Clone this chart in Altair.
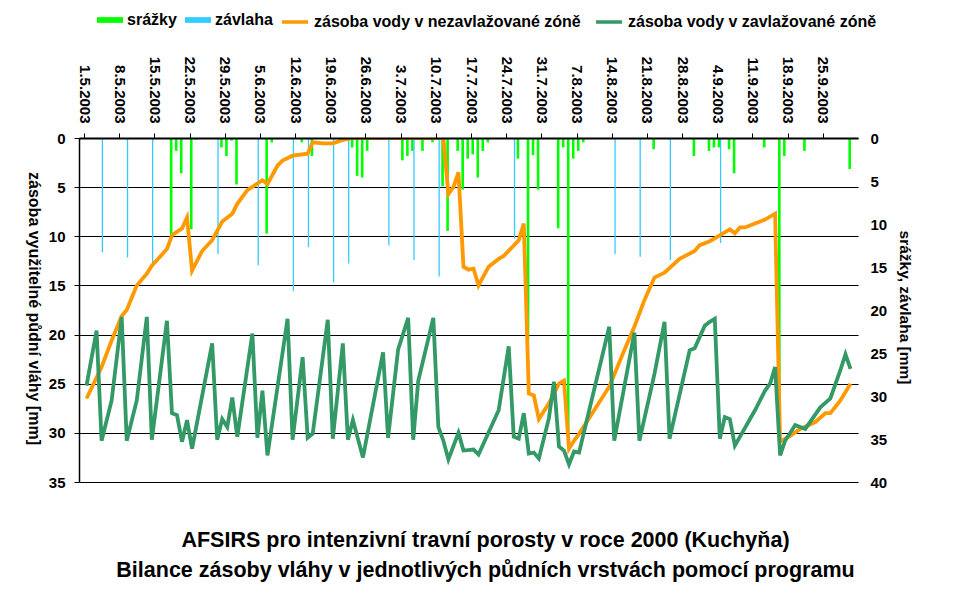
import altair as alt
import pandas as pd

FONT = "Liberation Sans"

# ---------------- data ----------------
tick_dates = ["2003-05-01", "2003-05-08", "2003-05-15", "2003-05-22", "2003-05-29",
              "2003-06-05", "2003-06-12", "2003-06-19", "2003-06-26", "2003-07-03",
              "2003-07-10", "2003-07-17", "2003-07-24", "2003-07-31", "2003-08-07",
              "2003-08-14", "2003-08-21", "2003-08-28", "2003-09-04", "2003-09-11",
              "2003-09-18", "2003-09-25"]

bar_names = ["srážky", "závlaha"]
bar_colors = ["#00ff00", "#33ccff"]
line_names = ["zásoba vody v nezavlažované zóně", "zásoba vody v zavlažované zóně"]
line_colors = ["#ff9900", "#339966"]

# day index counted from 1.5.2003
rain_day = [17, 18, 19, 21, 22, 27, 28, 29, 30, 36, 37, 43, 45, 53, 54, 55, 56, 63, 64, 65,
            67, 69, 71, 72, 74, 75, 76, 77, 78, 79, 80, 86, 88, 89, 90, 94, 95, 96, 97, 98,
            99, 113, 121, 124, 125, 126, 128, 129, 135, 138, 139, 143, 152]
rain_mm = [11.3, 1.5, 4.1, 10.6, 0.2, 1.1, 2.1, 0.3, 5.4, 11.1, 0.5, 0.5, 2.1, 1.1, 4.4, 4.6, 1.5, 2.6, 2.1, 1.5,
           1.5, 0.5, 5.6, 10.8, 1.5, 6.0, 2.4, 1.9, 4.6, 1.5, 0.5, 2.4, 23.5, 2.0, 6.0, 10.5, 1.1, 36.0, 2.4, 1.5,
           0.5, 1.3, 2.1, 1.5, 1.1, 1.1, 1.3, 4.1, 1.1, 36.5, 2.1, 1.5, 3.6]

irr_day = [3, 8, 13, 26, 34, 41, 44, 49, 52, 60, 65, 70, 85, 105, 110, 116, 126]
irr_mm = [13.3, 13.9, 14.7, 13.5, 14.8, 17.8, 12.7, 16.8, 14.6, 12.5, 14.2, 16.1, 11.7, 13.5, 13.8, 14.2, 12.2]

nz_day = [0, 3, 5, 7, 8, 10, 12, 13, 16, 17,
          19, 20, 21, 23, 25, 27, 29, 30, 32, 35,
          36, 38, 39, 41, 44, 45, 47, 49, 51, 52,
          53, 71, 72, 73, 74, 75, 76, 77, 78, 80,
          82, 83, 86, 87, 88, 89, 90, 92, 94, 95,
          96, 97, 98, 104, 107, 109, 111, 113, 115, 118,
          121, 122, 124, 126, 128, 129, 130, 131, 133, 135,
          137, 138, 140, 142, 145, 147, 148, 150, 152]
nz_val = [26.5, 23.3, 20.6, 18.1, 17.5, 15.0, 13.8, 13.0, 11.3, 9.9,
          9.2, 8.1, 13.5, 11.5, 10.4, 8.5, 7.7, 6.7, 5.3, 4.3,
          4.7, 2.8, 2.3, 1.8, 1.6, 0.44, 0.54, 0.54, 0.2, 0.1,
          0.0, 0.0, 5.7, 5.0, 3.5, 13.1, 13.4, 13.3, 15.0, 13.1,
          12.3, 12.0, 10.4, 8.7, 26.0, 26.2, 28.6, 27.0, 25.0, 24.7,
          31.6, 30.8, 30.1, 25.3, 21.6, 19.2, 16.5, 14.2, 13.7, 12.3,
          11.5, 10.9, 10.5, 9.9, 9.3, 9.7, 9.1, 9.1, 8.7, 8.3,
          7.7, 30.9, 30.3, 29.6, 28.9, 28.0, 28.0, 26.7, 25.0]

z_day = [0, 2, 3, 5, 7, 8, 10, 12, 13, 16,
         17, 18, 19, 20, 21, 25, 26, 27, 28, 29,
         30, 33, 34, 35, 36, 40, 41, 43, 44, 45,
         48, 49, 51, 52, 53, 55, 59, 60, 61, 62,
         64, 65, 66, 69, 70, 71, 72, 74, 75, 77,
         78, 82, 84, 85, 86, 87, 88, 89, 90, 92,
         93, 94, 95, 96, 97, 98, 104, 105, 109, 110,
         113, 115, 116, 120, 121, 123, 124, 125, 126, 127,
         128, 129, 133, 135, 136, 137, 138, 139, 141, 143,
         146, 148, 150, 151, 152]
z_val = [25.2, 19.6, 30.8, 26.7, 18.2, 30.8, 26.7, 18.2, 30.7, 18.6,
         28.0, 28.2, 30.9, 28.7, 31.6, 20.9, 30.7, 28.6, 29.4, 26.4,
         30.4, 19.9, 30.5, 25.7, 32.3, 18.4, 30.7, 22.3, 30.5, 30.1,
         18.5, 30.6, 20.9, 30.7, 28.7, 32.5, 21.8, 30.5, 26.0, 21.5,
         18.3, 30.7, 24.7, 18.3, 29.4, 30.8, 32.7, 30.0, 31.8, 31.7,
         32.2, 27.7, 21.2, 30.4, 30.6, 28.0, 32.1, 32.0, 32.6, 28.5,
         24.8, 31.4, 31.8, 33.2, 31.9, 32.0, 19.2, 30.8, 19.8, 30.8,
         24.0, 18.7, 30.6, 21.6, 21.4, 19.1, 18.7, 18.4, 30.6, 28.4,
         28.6, 31.3, 27.7, 25.7, 25.0, 23.3, 32.3, 30.8, 29.2, 29.6,
         27.4, 26.5, 23.6, 22.0, 23.5]

# the reference picture is mirrored top-to-bottom, so the title sits below the plot
# with its two lines in this order
title_lines = ["AFSIRS pro intenzivní travní porosty v roce 2000 (Kuchyňa)",
               "Bilance zásoby vláhy v jednotlivých půdních vrstvách pomocí programu"]
left_title = "zásoba využitelné půdní vláhy [mm]"
right_title = "srážky, závlaha [mm]"

# ---------------- tables ----------------
t0 = pd.Timestamp(tick_dates[0])
start_ms = int(t0.value // 10**6)
tick_days = [(pd.Timestamp(d) - t0).days for d in tick_dates]
n_days = 153

rain_df = pd.DataFrame({"pos": [d + 0.5 for d in rain_day], "mm": rain_mm, "series": bar_names[0]})
irr_df = pd.DataFrame({"pos": [d + 0.5 for d in irr_day], "mm": irr_mm, "series": bar_names[1]})
nz_df = pd.DataFrame({"pos": [d + 0.5 for d in nz_day], "val": nz_val, "series": line_names[0]})
z_df = pd.DataFrame({"pos": [d + 0.5 for d in z_day], "val": z_val, "series": line_names[1]})

common_legend = dict(
    title=None, orient="none", direction="horizontal", padding=0,
    labelFont=FONT, labelFontSize=16, labelFontWeight="bold", labelColor="black",
    labelLimit=500, labelOffset=4, columnPadding=8, symbolSize=676,
)
bar_legend = alt.Legend(legendX=18, legendY=-131, symbolType="M-1,-0.22H1V0.22H-1Z",
                        symbolStrokeWidth=0, **common_legend)
line_legend = alt.Legend(legendX=201, legendY=-131, symbolType="M-1,0H1",
                         symbolStrokeWidth=3.5, **common_legend)

bar_color = alt.Color("series:N", scale=alt.Scale(domain=bar_names, range=bar_colors), legend=bar_legend)
line_stroke = alt.Stroke("series:N", scale=alt.Scale(domain=line_names, range=line_colors), legend=line_legend)

x_enc = alt.X(
    "pos:Q",
    scale=alt.Scale(domain=[0, n_days], nice=False, zero=False),
    axis=alt.Axis(
        orient="top", title=None, values=tick_days,
        labelExpr=f"utcFormat({start_ms} + datum.value * 86400000, '%-d.%-m.%Y')",
        labelAngle=90, labelAlign="right", labelBaseline="middle",
        labelFont=FONT, labelFontSize=15, labelFontWeight="bold",
        labelColor="black", labelPadding=10, labelOverlap=False,
        domainColor="black", domainWidth=2, tickColor="black", tickSize=5, grid=False,
        zindex=1,
    ),
)

bar_axis = alt.Axis(
    orient="right", values=list(range(0, 41, 5)), grid=False, domain=False, ticks=False,
    labelFont=FONT, labelFontSize=15, labelFontWeight="bold", labelColor="black",
    labelPadding=12, title=right_title, titleAngle=90, titleBaseline="bottom", titleFont=FONT,
    titleFontSize=15.5, titleFontWeight="bold", titleColor="black", titlePadding=10,
    titleY=169,
)
bar_y = alt.Y("mm:Q", scale=alt.Scale(domain=[0, 40], nice=False, reverse=True), axis=bar_axis)

line_axis = alt.Axis(
    orient="left", values=list(range(0, 36, 5)), grid=True, gridColor="black", gridWidth=1,
    domainColor="black", domainWidth=1.5, tickColor="black", tickSize=5,
    labelFont=FONT, labelFontSize=15, labelFontWeight="bold", labelColor="black",
    labelPadding=9, title=left_title, titleAngle=90, titleBaseline="top", titleFont=FONT,
    titleFontSize=16, titleFontWeight="bold", titleColor="black", titlePadding=6.5,
    titleY=170,
)
line_y = alt.Y("val:Q", scale=alt.Scale(domain=[0, 35], nice=False, reverse=True), axis=line_axis)

rain = alt.Chart(rain_df).mark_bar(width=2.6, xOffset=-0.8).encode(x=x_enc, y=bar_y, color=bar_color)
irr = alt.Chart(irr_df).mark_bar(width=1.3, xOffset=0.8).encode(x=x_enc, y=bar_y, color=bar_color)
bars = alt.layer(rain, irr)

orange = alt.Chart(nz_df).mark_line(strokeWidth=3.8, clip=True).encode(x=x_enc, y=line_y, stroke=line_stroke)
green = alt.Chart(z_df).mark_line(strokeWidth=3.8, clip=True).encode(x=x_enc, y=line_y, stroke=line_stroke)
lines = alt.layer(orange, green)

chart = (
    alt.layer(bars, lines)
    .resolve_scale(y="independent")
    .properties(
        width=779, height=344,
        autosize=alt.AutoSizeParams(type="none"),
        padding={"left": 79, "top": 138, "right": 112, "bottom": 122},
        title=alt.TitleParams(
            text=title_lines, font=FONT, fontSize=21.5, fontWeight="bold", color="black",
            anchor="middle", frame="group", orient="bottom", offset=40, dx=17, lineHeight=30,
        ),
    )
    .configure(background="white", font=FONT)
    .configure_view(stroke=None)
)

chart.save("out.html", embed_options={"renderer": "svg", "actions": False})
